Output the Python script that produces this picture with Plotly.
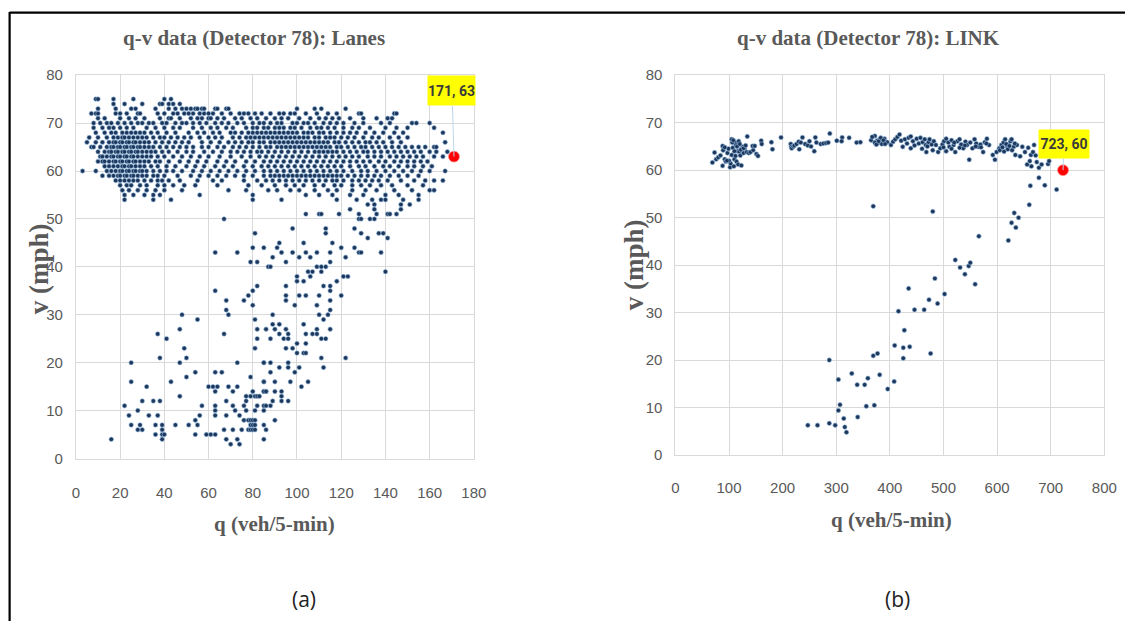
import plotly.graph_objects as go

W, H = 1138, 629

# ---------------- Panel (a): lane-level q-v samples ----------------
# Free-flow band, one list of flows (veh/5-min) per observed speed (mph)
q_at_75 = [9, 10, 17, 26, 40, 43]
q_at_74 = [17, 22, 30, 38, 39, 42, 44, 47]
q_at_73 = [10, 18, 25, 27, 36, 42, 45, 48, 50, 52, 54, 55, 57, 58, 63, 64, 68, 69, 100, 108, 111, 122]
q_at_72 = [7, 9, 10, 18, 20, 23, 28, 29, 37, 40, 44, 46, 49, 51, 53, 56, 58, 60, 62, 66, 70, 74, 76,
           78, 81, 84, 88, 92, 94, 97, 99, 104, 109, 114, 118, 128, 129, 144, 145]
q_at_71 = [10, 13, 20, 24, 27, 31, 38, 42, 43, 47, 52, 55, 57, 60, 61, 64, 67, 72, 75, 79, 82, 86, 90,
           93, 96, 101, 106, 110, 113, 116, 119, 124, 130, 136, 141, 143]
q_at_70 = [8, 11, 14, 16, 19, 22, 25, 28, 30, 33, 35, 39, 41, 45, 48, 50, 53, 56, 59, 63, 66, 69,
           73, 76, 80, 83, 85, 88, 91, 93, 98, 100, 103, 105, 108, 112, 115, 118, 121, 126,
           130, 138, 142, 152, 154, 160]
q_at_69 = [8, 12, 15, 17, 20, 23, 26, 32, 36, 40, 44, 47, 53, 57, 61, 64, 68, 71, 77, 80, 82,
           85, 87, 90, 92, 94, 97, 99, 102, 106, 109, 111, 114, 117, 121, 125, 128, 133, 140, 145,
           150, 162]
q_at_68 = [9, 13, 16, 18, 21, 23, 25, 27, 29, 31, 34, 37, 41, 45, 51, 55, 58, 62, 65, 70, 72,
           75, 78, 80, 82, 84, 86, 88, 90, 92, 94, 96, 98, 100, 103, 105, 107, 110, 112, 115, 118,
           121, 124, 127, 131, 135, 139, 144, 148, 166]
q_at_67 = [6, 10, 14, 17, 19, 21, 22, 24, 26, 28, 30, 32, 35, 38, 40, 43, 46, 49, 52, 56, 60, 63, 66,
           71, 74, 77, 79, 81, 83, 85, 87, 89, 91, 93, 95, 97, 99, 101, 103, 105, 108, 110, 113,
           115, 117, 120, 123, 126, 130, 134, 137, 142, 146, 150]
q_at_66 = [5, 9, 12, 15, 17, 18, 20, 21, 23, 24, 26, 27, 29, 31, 33, 36, 39, 42, 45, 48, 51, 57,
           61, 65, 69, 72, 75, 78, 80, 83, 85, 88, 90, 92, 94, 96, 98, 100, 102, 104, 106, 108, 110,
           112, 114, 117, 119, 122, 125, 128, 131, 133, 136, 139, 143, 147, 167]
q_at_65 = [7, 8, 11, 14, 16, 17, 19, 20, 22, 23, 25, 26, 28, 29, 31, 33, 35, 38, 41, 44, 47, 50, 53,
           57, 60, 64, 67, 71, 74, 77, 80, 83, 86, 88, 91, 93, 95, 97, 99, 101, 103, 105, 107, 109,
           111, 113, 115, 118, 120, 123, 126, 129, 131, 134, 137, 140, 143, 146, 149, 152, 155, 158,
           162, 163]
q_at_64 = [10, 13, 15, 16, 18, 19, 21, 22, 24, 25, 27, 28, 30, 32, 34, 36, 39, 42, 46, 50, 53, 58, 62,
           66, 70, 73, 76, 79, 82, 84, 87, 90, 93, 96, 99, 102, 105, 108, 110, 112, 114, 116, 118,
           121, 124, 127, 130, 132, 135, 138, 141, 144, 147, 150, 153, 156, 160, 163, 168]
q_at_63 = [11, 12, 14, 16, 17, 19, 20, 22, 23, 25, 26, 28, 30, 32, 34, 37, 40, 44, 48, 52, 56, 60, 65,
           70, 75, 79, 83, 86, 89, 92, 95, 98, 101, 104, 107, 110, 113, 116, 119, 122, 125, 128, 132,
           135, 138, 142, 145, 148, 151, 154, 157, 162, 166]
q_at_62 = [10, 12, 13, 15, 17, 18, 20, 21, 23, 24, 26, 27, 29, 31, 33, 36, 38, 42, 47, 51, 55, 59, 64,
           68, 72, 77, 81, 85, 88, 91, 94, 97, 100, 103, 106, 109, 112, 115, 118, 121, 124, 127, 130,
           133, 137, 140, 144, 147, 150, 153, 156, 159]
q_at_61 = [13, 15, 17, 19, 21, 22, 24, 25, 27, 29, 31, 34, 37, 41, 45, 50, 54, 58, 63, 67, 71, 76, 80,
           84, 87, 90, 93, 96, 99, 102, 105, 108, 111, 114, 117, 120, 124, 128, 131, 135, 139, 142,
           146, 150, 153, 157, 161]
q_at_60 = [3, 9, 14, 16, 18, 20, 21, 23, 24, 26, 27, 29, 30, 32, 35, 38, 41, 44, 48, 53, 57, 61, 65,
           69, 73, 77, 81, 85, 88, 91, 94, 97, 100, 103, 106, 109, 112, 115, 118, 121, 125, 129, 132,
           136, 140, 144, 148, 152, 156, 160, 167]
q_at_59 = [12, 15, 17, 19, 20, 22, 23, 25, 26, 28, 30, 32, 35, 37, 40, 46, 52, 56, 60, 64, 68, 72, 76,
           80, 85, 88, 90, 92, 94, 96, 98, 100, 102, 104, 106, 108, 110, 112, 114, 116, 118, 120, 123,
           126, 129, 132, 135, 138, 142, 146, 150, 155]
q_at_58 = [18, 20, 22, 24, 26, 28, 31, 34, 37, 39, 42, 47, 55, 62, 66, 76, 82, 86, 89, 92, 95, 98, 101,
           104, 107, 110, 113, 116, 118, 121, 125, 128, 131, 134, 137, 141, 147, 153, 158, 162, 166]
q_at_57 = [20, 23, 25, 29, 32, 37, 40, 44, 49, 54, 64, 78, 84, 90, 95, 99, 103, 108, 112, 117, 120, 125,
           129, 133, 138, 143, 150, 157]
q_at_56 = [21, 24, 28, 32, 36, 40, 48, 69, 77, 87, 91, 97, 101, 108, 114, 118, 125, 131, 136, 144, 152,
           160, 162]
q_at_55 = [22, 26, 31, 35, 38, 56, 80, 104, 110, 116, 124, 130, 140, 146, 155]
q_at_54 = [22, 35, 43, 80, 93, 118, 127, 134, 138, 140, 148, 155]

lanes_free_rows = [
    (75, q_at_75), (74, q_at_74), (73, q_at_73), (72, q_at_72), (71, q_at_71), (70, q_at_70),
    (69, q_at_69), (68, q_at_68), (67, q_at_67), (66, q_at_66), (65, q_at_65), (64, q_at_64),
    (63, q_at_63), (62, q_at_62), (61, q_at_61), (60, q_at_60), (59, q_at_59), (58, q_at_58),
    (57, q_at_57), (56, q_at_56), (55, q_at_55), (54, q_at_54),
]

# Transition / congested samples as (flow, speed)
lanes_congested = [
    (124, 52), (128, 51), (132, 53), (135, 53), (135, 52), (136, 51), (147, 52), (147, 53), (151, 53),
    (104, 51), (110, 51), (111, 51), (119, 51), (141, 51), (142, 51), (145, 51),
    (67, 50), (128, 50), (129, 50), (133, 50), (135, 50),
    (98, 48), (113, 48), (113, 47), (126, 48), (129, 47), (132, 46), (137, 47), (139, 47), (141, 46),
    (81, 47), (63, 43), (73, 43), (80, 44), (85, 44), (79, 41), (82, 41), (87, 40),
    (138, 43), (140, 39), (116, 45), (120, 44), (126, 44), (128, 43), (129, 43),
    (115, 43), (109, 43), (104, 43), (106, 42), (101, 42), (98, 43), (122, 42),
    (89, 42), (88, 40), (93, 43), (92, 45), (91, 44), (95, 41), (103, 45), (115, 41),
    (105, 39), (107, 39), (109, 40), (111, 40), (113, 40), (111, 39), (106, 38), (121, 38), (123, 38),
    (100, 38), (100, 37), (103, 37), (118, 37),
    (63, 35), (68, 33), (68, 31), (69, 30), (76, 33), (78, 34), (80, 35), (82, 36), (80, 32),
    (95, 36), (95, 34), (95, 33), (101, 34), (104, 34), (99, 32), (112, 36), (115, 36), (115, 35),
    (110, 34), (115, 33), (120, 34), (109, 32), (115, 31), (114, 30), (110, 30), (112, 29),
    (81, 29), (82, 27), (82, 25), (81, 23), (86, 27), (67, 26), (89, 30), (89, 28), (90, 27), (88, 25),
    (92, 28), (92, 26), (95, 27), (96, 26), (94, 25), (96, 25),
    (103, 28), (104, 26), (107, 26), (109, 27), (109, 26), (111, 25), (113, 25), (115, 27),
    (95, 23), (98, 23), (100, 22), (103, 22), (104, 22), (100, 24), (104, 24), (111, 21), (122, 21),
    (112, 19), (85, 20), (88, 20), (88, 18), (92, 19), (96, 20), (96, 19), (99, 18), (101, 19),
    (73, 20), (85, 20), (63, 18), (66, 18), (79, 17),
    (85, 16), (90, 16), (97, 16), (102, 15), (105, 16),
    (85, 14), (86, 14), (90, 14), (93, 14), (93, 13), (89, 12), (93, 12), (96, 12),
    (60, 15), (62, 15), (63, 14), (64, 15), (69, 15), (71, 14), (73, 15),
    (77, 13), (77, 12), (79, 13), (80, 14), (81, 13), (82, 13), (83, 13), (85, 16), (85, 14), (86, 14),
    (68, 12), (71, 11), (72, 10), (76, 11), (77, 10), (74, 9), (76, 8),
    (82, 11), (85, 11), (86, 11), (88, 11), (81, 10), (85, 10), (90, 8),
    (63, 11), (63, 10), (63, 9), (68, 9), (57, 11), (56, 9), (54, 8), (55, 7), (51, 7), (45, 7),
    (78, 8), (79, 8), (80, 8), (81, 8), (79, 7), (80, 7), (81, 7), (85, 7), (86, 6), (85, 4),
    (78, 6), (79, 6), (80, 6), (81, 6),
    (59, 5), (61, 5), (63, 5), (67, 6), (71, 6), (75, 6), (68, 4), (70, 3), (73, 4), (74, 3), (54, 5),
    (16, 4), (22, 11), (24, 9), (25, 7), (28, 6), (30, 6), (29, 7), (28, 10), (30, 12),
    (25, 20), (25, 16), (32, 15), (35, 12), (38, 12), (33, 9), (37, 9),
    (36, 7), (36, 5), (39, 7), (39, 5), (39, 6), (39, 4), (40, 5),
    (37, 26), (38, 21), (41, 25), (43, 16), (47, 27), (47, 20), (48, 30), (49, 23), (50, 21),
    (50, 17), (47, 13), (54, 18), (55, 29),
]
lanes_peak = (171, 63)

# ---------------- Panel (b): link-level q-v samples ----------------
link_free = [
    (69, 61.6), (73, 63.7), (76, 62.3), (80, 62.7), (84, 63.1), (88, 60.9), (88, 65.1), (89, 64.2),
    (92, 62.3), (94, 61.8), (97, 63.6), (99, 64.5), (102, 60.6), (103, 61.4), (105, 63.2),
    (105, 66.5), (107, 64.7), (110, 62.3), (111, 65.8), (113, 65.3), (114, 61.8), (116, 64.0),
    (117, 61.2), (118, 66.1), (119, 63.9), (121, 63.1), (123, 61.0), (124, 64.6), (126, 64.9),
    (127, 63.6), (129, 64.6), (133, 63.8), (134, 67.1), (137, 63.6), (140, 63.8), (144, 65.1),
    (145, 64.2), (148, 65.1), (151, 63.4), (154, 63.0), (160, 66.2), (161, 65.5), (179, 65.9),
    (181, 64.4), (197, 66.9), (100, 62.0), (106, 65.8), (108, 66.3), (110, 64.0), (112, 63.0),
    (115, 65.0), (120, 65.5), (122, 64.3), (127, 64.6), (131, 65.2), (92, 64.8), (96, 62.0),
    (109, 60.8),
    (215, 65.5), (216, 64.9), (217, 64.6), (220, 65.0), (222, 65.2), (226, 65.5), (230, 66.0),
    (231, 64.4), (234, 65.8), (237, 66.9), (242, 65.5), (247, 65.2), (250, 66.1), (253, 65.0),
    (259, 64.0), (261, 66.9), (263, 65.8), (271, 65.5), (276, 65.6), (281, 65.7), (285, 65.8),
    (288, 67.7), (301, 66.2), (311, 66.9), (310, 66.1), (324, 66.8), (338, 65.8), (345, 65.9),
    (365, 66.3), (372, 67.2), (374, 65.5), (376, 66.2), (380, 65.8), (381, 66.5), (385, 65.5),
    (390, 66.6), (395, 65.9),
    (367, 67.0), (372, 65.8), (375, 65.4), (379, 66.1), (383, 66.8), (388, 66.3), (391, 65.5),
    (402, 65.3), (406, 66.0), (410, 66.5), (414, 67.0), (418, 67.5), (421, 66.2), (424, 64.9),
    (428, 66.5), (432, 65.6), (435, 66.8), (439, 67.1), (439, 64.6), (443, 66.1), (446, 65.2),
    (450, 66.6), (454, 65.6), (457, 66.8), (461, 65.9), (465, 66.5), (467, 65.3), (468, 63.8),
    (472, 65.9), (474, 66.5), (478, 65.4), (482, 66.1), (486, 65.3),
    (490, 63.8), (494, 64.6), (498, 65.4), (501, 66.1), (505, 66.6), (509, 65.8), (511, 64.9),
    (515, 66.3), (519, 65.3), (522, 63.8), (526, 66.1), (530, 66.5), (533, 65.4), (537, 64.6),
    (541, 66.0), (544, 65.3), (548, 62.2), (550, 65.8), (554, 64.6), (558, 66.5), (561, 65.6),
    (565, 64.9), (569, 65.4), (574, 63.8), (577, 65.9), (581, 66.6), (585, 65.3),
    (592, 63.2), (596, 62.2), (599, 63.8), (604, 64.6), (608, 65.3), (612, 65.8), (615, 66.5),
    (619, 64.9), (621, 65.4), (625, 66.1), (627, 66.5), (631, 64.9), (634, 63.2), (637, 65.3),
    (643, 62.9), (647, 64.9), (652, 63.8), (656, 61.2), (658, 64.7), (661, 61.9), (663, 63.2),
    (664, 60.8), (667, 63.8), (669, 65.3), (672, 63.1), (674, 61.7), (678, 60.5), (683, 61.2),
    (695, 61.3), (697, 61.9),
    (605, 64.2), (610, 64.8), (613, 63.9), (617, 65.5), (620, 64.4), (623, 65.1), (628, 64.2),
    (633, 65.6), (460, 64.5), (470, 65.0), (480, 64.2), (500, 64.8), (505, 64.0), (515, 64.5),
    (520, 65.8), (530, 64.7), (540, 65.2), (560, 65.0), (570, 64.8), (580, 65.6),
]
link_congested = [
    (369, 52.4), (480, 51.3), (566, 46.1), (621, 45.2), (522, 41.1), (531, 39.5), (540, 38.1),
    (547, 39.8), (550, 40.5), (559, 36.0), (484, 37.2), (435, 35.1), (502, 33.9), (473, 32.7),
    (489, 31.9), (416, 30.3), (446, 30.6), (464, 30.6), (427, 26.3), (409, 23.1), (425, 22.6),
    (437, 22.8), (425, 20.4), (369, 20.9), (377, 21.4), (476, 21.4), (287, 20.0), (304, 15.9),
    (329, 17.2), (339, 14.8), (353, 14.8), (359, 16.2), (381, 16.9), (396, 13.9), (408, 15.5),
    (307, 10.6), (304, 9.4), (356, 10.3), (371, 10.5), (314, 7.7), (340, 8.0), (247, 6.3),
    (265, 6.3), (287, 6.7), (298, 6.3), (316, 5.9), (319, 4.8),
    (627, 48.9), (635, 47.9), (632, 51.0), (640, 50.0), (660, 52.7), (662, 56.7), (678, 58.4),
    (689, 56.8), (711, 55.9),
]
link_peak = (723, 60)

# ---------------- assemble point arrays ----------------
qa, va = [], []
for speed, flows in lanes_free_rows:
    for q in flows:
        qa.append(q)
        va.append(speed)
for q, v in lanes_congested:
    qa.append(q)
    va.append(v)

qb = [p[0] for p in link_free + link_congested]
vb = [p[1] for p in link_free + link_congested]

# ---------------- styling ----------------
DOT = dict(size=4.5, color="#1d3659", line=dict(width=0.7, color="rgba(150,190,230,0.85)"))
PEAK = dict(size=11, color="#ff0000", line=dict(width=0.8, color="rgba(255,150,150,0.9)"))
GRID = "#d9d9d9"
TXT = "#595959"
SERIF = "Liberation Serif, Times New Roman, serif"
TICKFONT = dict(family="Liberation Sans Narrow, Arial Narrow, Liberation Sans, Arial", size=15, color=TXT)


def px(x):
    return x / W


def py(y):
    return 1 - y / H


fig = go.Figure()
fig.add_trace(go.Scatter(x=qa, y=va, mode="markers", marker=DOT, xaxis="x", yaxis="y",
                         hoverinfo="x+y"))
fig.add_trace(go.Scatter(x=[lanes_peak[0]], y=[lanes_peak[1]], mode="markers", marker=PEAK,
                         xaxis="x", yaxis="y"))
fig.add_trace(go.Scatter(x=qb, y=vb, mode="markers", marker=DOT, xaxis="x2", yaxis="y2",
                         hoverinfo="x+y"))
fig.add_trace(go.Scatter(x=[link_peak[0]], y=[link_peak[1]], mode="markers", marker=PEAK,
                         xaxis="x2", yaxis="y2"))

axis_common = dict(showgrid=True, gridcolor=GRID, gridwidth=1, zeroline=False, showline=True,
                   linecolor=GRID, linewidth=1, mirror=True, ticks="", tickfont=TICKFONT,
                   fixedrange=True)

fig.update_layout(
    width=W, height=H,
    margin=dict(l=0, r=0, t=0, b=0),
    paper_bgcolor="white", plot_bgcolor="white",
    showlegend=False,
    xaxis=dict(axis_common, domain=[px(73), px(477)], range=[0, 180], dtick=20, anchor="y",
               ticklabelstandoff=20),
    yaxis=dict(axis_common, domain=[py(462), py(68)], range=[0, 80], dtick=10, anchor="x",
               ticklabelstandoff=9),
    xaxis2=dict(axis_common, domain=[px(681.6), px(1117)], range=[0, 800], dtick=100, anchor="y2",
                ticklabelstandoff=19),
    yaxis2=dict(axis_common, domain=[py(458.5), py(68)], range=[0, 80], dtick=10, anchor="x2",
                ticklabelstandoff=9),
)

ann = []


def text(x, y, s, size, family=SERIF, bold=True, color=TXT, angle=0):
    ann.append(dict(x=px(x), y=py(y), xref="paper", yref="paper", text=f"<b>{s}</b>" if bold else s,
                    showarrow=False, xanchor="center", yanchor="middle", textangle=angle,
                    font=dict(family=family, size=size, color=color)))


text(254, 30, "q-v data (Detector 78): Lanes", 21)
text(878, 30, "q-v data (Detector 78): LINK", 21)
text(275, 529, "q (veh/5-min)", 21)
text(901, 525, "q (veh/5-min)", 21)
text(35, 267, "v (mph)", 27, angle=-90)
text(639, 263, "v (mph)", 27, angle=-90)
text(305, 606, "(a)", 21, family="Open Sans, Liberation Sans, Arial", bold=False, color="#222222")
text(907, 606, "(b)", 21, family="Open Sans, Liberation Sans, Arial", bold=False, color="#222222")

LABELFONT = dict(family="Liberation Sans Narrow, Arial Narrow, Roboto, Arial", size=14, color="#3a3a3a")
ann.append(dict(x=lanes_peak[0], y=lanes_peak[1], xref="x", yref="y",
                text=f"<b>{lanes_peak[0]}, {lanes_peak[1]}</b>",
                showarrow=True, arrowhead=0, arrowwidth=1, arrowcolor="#bcd7ee", ax=-2, ay=-66,
                bgcolor="#ffff00", borderpad=0, width=47, height=29, font=LABELFONT))
ann.append(dict(x=link_peak[0], y=link_peak[1], xref="x2", yref="y2",
                text=f"<b>{link_peak[0]}, {link_peak[1]}</b>",
                showarrow=True, arrowhead=0, arrowwidth=1, arrowcolor="#bcd7ee", ax=1, ay=-26,
                bgcolor="#ffff00", borderpad=0, width=50, height=28, font=LABELFONT))

fig.update_layout(annotations=ann)

# frame lines along the top and left edges
fig.add_shape(type="line", xref="paper", yref="paper", x0=px(5.7), x1=1, y0=py(3.7), y1=py(3.7),
              line=dict(color="black", width=2.2))
fig.add_shape(type="line", xref="paper", yref="paper", x0=px(5.7), x1=px(5.7), y0=py(3), y1=0,
              line=dict(color="black", width=2.2))

fig.write_html(
    "out.html",
    config={"displayModeBar": False},
    post_script="document.body.style.margin='0';document.body.style.overflow='hidden';",
)
